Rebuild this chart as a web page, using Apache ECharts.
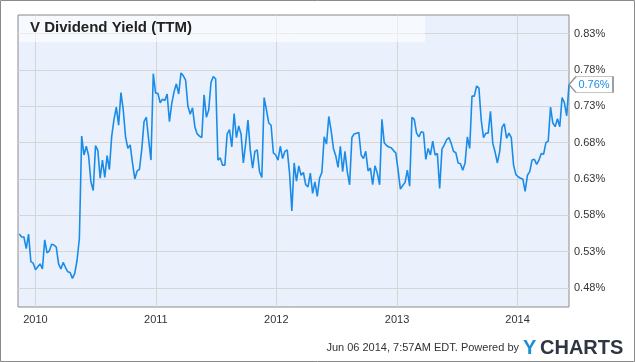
<!DOCTYPE html>
<html>
<head>
<meta charset="utf-8">
<script src="https://cdn.jsdelivr.net/npm/echarts@6/dist/echarts.min.js"></script>
<style>
  html, body { margin: 0; padding: 0; background: #fff; }
  #chart { width: 635px; height: 362px; }
</style>
</head>
<body>
<div id="chart"></div>
<script>
// Weekly observations (Fridays), first one on this date, last on Jun 06 2014
const firstObservation = '2009-11-13';
// V dividend yield (TTM), in percent
const yields = [
  0.554,0.550,0.550,0.534,0.554,0.516,0.514,0.505,0.509,0.513,
  0.506,0.546,0.528,0.531,0.540,0.539,0.536,0.513,0.506,0.515,
  0.508,0.502,0.501,0.493,0.500,0.518,0.548,0.689,0.663,0.675,
  0.662,0.626,0.614,0.676,0.669,0.631,0.656,0.632,0.662,0.643,
  0.689,0.712,0.729,0.704,0.749,0.725,0.688,0.672,0.677,
  0.652,0.630,0.641,0.643,0.670,0.709,0.715,0.684,0.656,0.775,
  0.748,0.748,0.735,0.740,0.738,0.747,0.709,0.734,0.750,0.761,
  0.747,0.776,0.772,0.766,0.730,0.719,0.728,0.702,0.692,0.689,
  0.687,0.746,0.715,0.725,0.763,0.771,0.768,0.656,0.659,0.649,
  0.649,0.692,0.698,0.674,0.720,0.687,0.703,0.692,
  0.652,0.679,0.711,0.670,0.645,0.668,0.670,0.640,0.632,0.742,
  0.725,0.707,0.704,0.666,0.663,0.656,0.675,0.658,0.668,0.670,
  0.638,0.586,0.652,0.627,0.648,0.635,0.639,0.622,0.619,0.638,
  0.610,0.626,0.606,0.631,0.639,0.688,0.678,0.716,0.697,0.672,
  0.662,0.646,0.675,0.640,0.668,0.640,0.622,
  0.687,0.692,0.693,0.694,0.663,0.658,0.668,0.641,0.645,0.622,
  0.648,0.638,0.622,0.712,0.680,0.676,0.674,0.673,0.669,0.666,
  0.642,0.616,0.621,0.625,0.642,0.620,0.715,0.712,0.693,0.688,
  0.695,0.694,0.657,0.672,0.663,0.682,0.663,0.665,0.617,0.671,
  0.677,0.684,0.687,0.679,0.668,0.666,0.652,0.651,
  0.642,0.652,0.688,0.672,0.744,0.744,0.758,0.755,0.711,0.687,
  0.693,0.693,0.723,0.679,0.667,0.652,0.668,0.701,0.706,0.686,
  0.693,0.687,0.649,0.636,0.633,0.631,0.630,0.613,0.635,0.640,
  0.656,0.657,0.650,0.656,0.665,0.664,0.680,0.682,0.729,0.707,
  0.702,0.713,0.702,0.742,0.735,0.717,0.760
];
const yearTicks = ['2010-01-01','2011-01-01','2012-01-01','2013-01-01','2014-01-01'];
const yTicks = [0.48,0.53,0.58,0.63,0.68,0.73,0.78,0.83];
const axisRangeX = ['2009-11-09','2014-06-06'];
const axisRangeY = [0.4536, 0.8558];
const titleText = 'V Dividend Yield (TTM)';
const footerText = 'Jun 06 2014, 7:57AM EDT. Powered by';

const FONT = '"Liberation Sans", Arial, Helvetica, sans-serif';
const DAY = 86400000;
const ts = s => { const p = s.split('-').map(Number); return Date.UTC(p[0], p[1]-1, p[2]); };
const t0 = ts(firstObservation);
const seriesData = yields.map((v, i) => [t0 + i * 7 * DAY, v]);
const last = seriesData[seriesData.length - 1];
const fmtPct = v => Number(v).toFixed(2) + '%';

const chart = echarts.init(document.getElementById('chart'), null, {renderer: 'canvas'});
chart.setOption({
  animation: false,
  backgroundColor: '#ffffff',
  textStyle: { fontFamily: FONT },
  grid: {
    left: 18, right: 66, top: 15, bottom: 55,
    show: true, backgroundColor: '#eaf1fc', borderColor: '#8c8c8c', borderWidth: 1,
    containLabel: false
  },
  xAxis: {
    type: 'value',
    min: ts(axisRangeX[0]), max: ts(axisRangeX[1]),
    axisLine: { show: false },
    axisTick: { show: false, customValues: yearTicks.map(ts) },
    axisLabel: {
      customValues: yearTicks.map(ts),
      formatter: v => String(new Date(v).getUTCFullYear()),
      color: '#333', fontSize: 11, fontFamily: FONT, margin: 7
    },
    splitLine: { show: true, lineStyle: { color: '#d5d5d5', width: 1 } }
  },
  yAxis: {
    type: 'value', position: 'right',
    min: axisRangeY[0], max: axisRangeY[1],
    axisLine: { show: false },
    axisTick: { show: false, customValues: yTicks },
    axisLabel: {
      customValues: yTicks,
      formatter: v => fmtPct(v),
      color: '#333', fontSize: 11, fontFamily: FONT, margin: 5
    },
    splitLine: { show: true, lineStyle: { color: '#d5d5d5', width: 1 } }
  },
  series: [{
    type: 'line',
    data: seriesData,
    showSymbol: false,
    lineStyle: { color: '#1a8ce8', width: 1.6 },
    itemStyle: { color: '#1a8ce8' },
    z: 3,
    markPoint: {
      silent: true,
      symbol: 'path://M0,8 L7,0 L44,0 L44,16 L7,16 Z',
      symbolSize: [44, 16],
      symbolOffset: [22, 0],
      symbolKeepAspect: false,
      itemStyle: { color: '#ffffff', borderColor: '#8c8c8c', borderWidth: 1 },
      label: {
        show: true, position: 'inside', offset: [3, 0],
        formatter: p => fmtPct(p.value),
        color: '#1a8ce8', fontSize: 11, fontFamily: FONT
      },
      data: [{ coord: last, value: last[1] }]
    }
  }],
  graphic: [
    { type: 'rect', z: 1, silent: true,
      shape: { x: 19, y: 16, width: 406, height: 26 },
      style: { fill: 'rgba(255,255,255,0.55)' } },
    { type: 'text', z: 5, silent: true, x: 30, y: 28,
      style: { text: titleText, font: 'bold 15px ' + FONT, fill: '#222', textVerticalAlign: 'middle' } },
    { type: 'text', z: 5, silent: true, x: 519, y: 348,
      style: { text: footerText, font: '11px ' + FONT, fill: '#333', textAlign: 'right', textVerticalAlign: 'middle' } },
    { type: 'text', z: 5, silent: true, x: 523, y: 348,
      style: { text: 'Y', font: 'bold 20px ' + FONT, fill: '#1b8fd6', textVerticalAlign: 'middle' } },
    { type: 'text', z: 5, silent: true, x: 540, y: 348,
      style: { text: 'CHARTS', font: 'bold 20px ' + FONT, fill: '#2d3642', textVerticalAlign: 'middle' } },
    { type: 'rect', z: 10, silent: true,
      shape: { x: 0.5, y: 0.5, width: 634, height: 361 },
      style: { fill: 'none', stroke: '#8a8a8a', lineWidth: 1 } }
  ]
});
</script>
</body>
</html>
